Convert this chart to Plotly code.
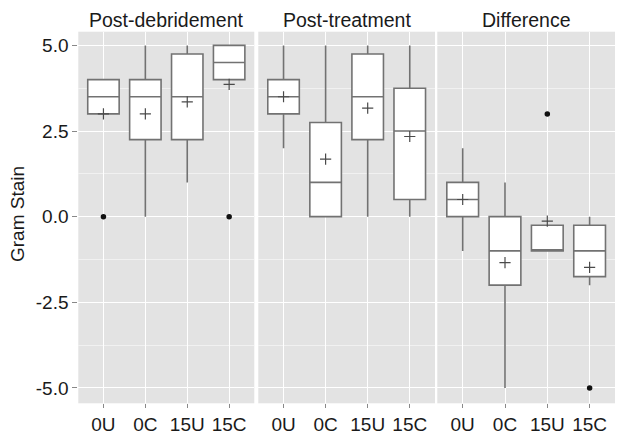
import plotly.graph_objects as go

categories = ["0U", "0C", "15U", "15C"]
panels = ["Post-debridement", "Post-treatment", "Difference"]

# box stats per panel (order of categories)
q1 = {
    "Post-debridement": [3.0, 2.25, 2.25, 4.0],
    "Post-treatment": [3.0, 0.0, 2.25, 0.5],
    "Difference": [0.0, -2.0, -1.0, -1.75],
}
median = {
    "Post-debridement": [3.5, 3.5, 3.5, 4.5],
    "Post-treatment": [3.5, 1.0, 3.5, 2.5],
    "Difference": [0.5, -1.0, -1.0, -1.0],
}
q3 = {
    "Post-debridement": [4.0, 4.0, 4.75, 5.0],
    "Post-treatment": [4.0, 2.75, 4.75, 3.75],
    "Difference": [1.0, 0.0, -0.25, -0.25],
}
lower = {
    "Post-debridement": [3.0, 0.0, 1.0, 4.0],
    "Post-treatment": [2.0, 0.0, 0.0, 0.0],
    "Difference": [-1.0, -5.0, -1.0, -2.0],
}
upper = {
    "Post-debridement": [4.0, 5.0, 5.0, 5.0],
    "Post-treatment": [5.0, 5.0, 5.0, 5.0],
    "Difference": [2.0, 1.0, -0.25, 0.0],
}
means = {
    "Post-debridement": [3.0, 3.0, 3.35, 3.86],
    "Post-treatment": [3.5, 1.68, 3.17, 2.34],
    "Difference": [0.5, -1.34, -0.13, -1.48],
}
outlier_x = {
    "Post-debridement": ["0U", "15C"],
    "Post-treatment": [],
    "Difference": ["15U", "15C"],
}
outlier_y = {
    "Post-debridement": [0.0, 0.0],
    "Post-treatment": [],
    "Difference": [3.0, -5.0],
}
y_ticks = [-5.0, -2.5, 0.0, 2.5, 5.0]
y_tick_labels = ["-5.0", "-2.5", "0.0", "2.5", "5.0"]

# page body has an 8px margin: the figure sits at (8, 8) in the window
OFF = 8
W, H = 624 - OFF, 438 - OFF
x_px = [(78.3 - OFF, 254.3 - OFF), (258.3 - OFF, 435.0 - OFF), (437.3 - OFF, 615.0 - OFF)]
y_px = (31.7 - OFF, 403.3 - OFF)

fig = go.Figure()
FONT = "Liberation Sans, Arial, Helvetica, sans-serif"
box_line = "#727272"

for i, p in enumerate(panels):
    xa = "x" if i == 0 else f"x{i+1}"
    ya = "y" if i == 0 else f"y{i+1}"
    fig.add_trace(go.Box(
        x=categories, q1=q1[p], median=median[p], q3=q3[p],
        lowerfence=lower[p], upperfence=upper[p],
        width=0.75, whiskerwidth=0, fillcolor="white",
        line=dict(color=box_line, width=1.6),
        boxpoints=False, xaxis=xa, yaxis=ya, showlegend=False,
        hoverinfo="skip",
    ))
    fig.add_trace(go.Scatter(
        x=categories, y=means[p], mode="markers",
        marker=dict(symbol="cross-thin", size=8, line=dict(color="#4a4a4a", width=1.2)),
        xaxis=xa, yaxis=ya, showlegend=False, hoverinfo="skip",
    ))
    if outlier_x[p]:
        fig.add_trace(go.Scatter(
            x=outlier_x[p], y=outlier_y[p], mode="markers",
            marker=dict(symbol="circle", size=5.5, color="#111111"),
            xaxis=xa, yaxis=ya, showlegend=False, hoverinfo="skip",
        ))

layout = dict(
    width=W, height=H,
    margin=dict(l=0, r=0, t=0, b=0, pad=0),
    paper_bgcolor="white",
    plot_bgcolor="#E3E3E3",
    font=dict(family=FONT, color="#1a1a1a"),
)
ydom = [(H - y_px[1]) / H, (H - y_px[0]) / H]
annotations = []
for i, p in enumerate(panels):
    xname = "xaxis" if i == 0 else f"xaxis{i+1}"
    yname = "yaxis" if i == 0 else f"yaxis{i+1}"
    dom = [x_px[i][0] / W, x_px[i][1] / W]
    layout[xname] = dict(
        domain=dom, anchor="y" if i == 0 else f"y{i+1}",
        type="category", categoryorder="array", categoryarray=categories,
        range=[-0.6, 3.6], showgrid=True, gridcolor="white", gridwidth=1.3,
        ticks="outside", ticklen=4, tickcolor="#888888", tickwidth=1,
        tickfont=dict(size=19, color="#1a1a1a", family=FONT),
        zeroline=False, showline=False, fixedrange=True, automargin=False,
    )
    layout[yname] = dict(
        domain=ydom, anchor="x" if i == 0 else f"x{i+1}",
        range=[-5.45, 5.4], tickvals=y_ticks,
        ticktext=y_tick_labels if i == 0 else [""] * len(y_ticks),
        showticklabels=(i == 0),
        ticks="outside" if i == 0 else "", ticklen=5, tickcolor="#888888",
        tickfont=dict(size=19, color="#1a1a1a", family=FONT),
        showgrid=True, gridcolor="white", gridwidth=1.3,
        minor=dict(showgrid=True, gridcolor="#F1F1F1", gridwidth=0.6,
                   tick0=-3.75, dtick=2.5),
        zeroline=False, showline=False, fixedrange=True, automargin=False,
    )
    if i > 0:
        layout[yname]["matches"] = "y"
    annotations.append(dict(
        text=p, x=(dom[0] + dom[1]) / 2, y=1.0,
        xref="paper", yref="paper", showarrow=False,
        xanchor="center", yanchor="top", borderpad=0,
        font=dict(size=19.5, color="#1a1a1a", family=FONT),
    ))
annotations.append(dict(
    text="Gram Stain", x=(17 - OFF) / W, y=(H - (214 - OFF)) / H,
    xref="paper", yref="paper",
    showarrow=False, textangle=-90, xanchor="center", yanchor="middle",
    font=dict(size=19, color="#1a1a1a", family=FONT),
))
layout["annotations"] = annotations
fig.update_layout(**layout)
fig.write_html("out.html")
